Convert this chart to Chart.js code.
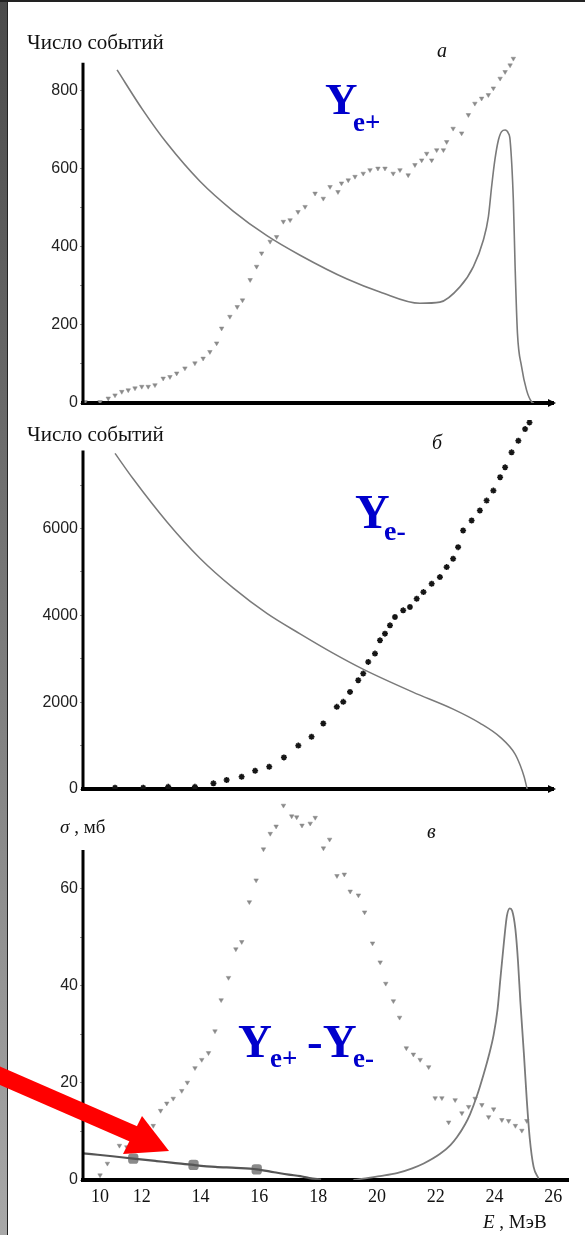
<!DOCTYPE html>
<html>
<head>
<meta charset="utf-8">
<script src="https://cdn.jsdelivr.net/npm/chart.js"></script>
<style>
  body { margin: 0; background: #fff; }
  #page { position: relative; width: 585px; height: 1235px; overflow: hidden; background: #fff; }
  canvas { position: absolute; left: 0; }
  .t { position: absolute; white-space: nowrap; line-height: 1; font-family: "Liberation Serif", "Times New Roman", serif; color: #111; }
  .yl { position: absolute; white-space: nowrap; line-height: 1; font-family: "Liberation Serif", "Times New Roman", serif; font-weight: bold; color: #0000cc; }
</style>
</head>
<body>
<div id="page">
  <div style="position:absolute;left:0;top:0;width:7px;height:1235px;background:linear-gradient(#4a4a4a,#a8a8a8)"></div>
  <div style="position:absolute;left:7px;top:0;width:1px;height:1235px;background:#222"></div>
  <div style="position:absolute;left:0;top:0;width:585px;height:2px;background:#222"></div>

  <canvas id="chartA" width="585" height="400" style="top:30px"></canvas>
  <canvas id="chartB" width="585" height="400" style="top:405px"></canvas>
  <canvas id="chartC" width="585" height="445" style="top:790px"></canvas>

  <div class="t" style="left:27px;top:32px;font-size:21px">Число событий</div>
  <div class="t" style="left:27px;top:424px;font-size:21px">Число событий</div>
  <div class="t" style="left:60px;top:817px;font-size:19px"><i>σ</i> , мб</div>
  <div class="t" style="left:483px;top:1212px;font-size:19px"><i>E</i> , МэВ</div>

  <div class="t" style="left:437px;top:40px;font-size:20px;font-style:italic">а</div>
  <div class="t" style="left:432px;top:432px;font-size:20px;font-style:italic">б</div>
  <div class="t" style="left:427px;top:821px;font-size:20px;font-style:italic">в</div>

  <div class="yl" style="left:325px;top:77px;font-size:45px">Y</div>
  <div class="yl" style="left:353px;top:109px;font-size:27px">e+</div>

  <div class="yl" style="left:355px;top:488px;font-size:48px">Y</div>
  <div class="yl" style="left:384px;top:517px;font-size:28px">e-</div>

  <div class="yl" style="left:238px;top:1018px;font-size:47px">Y</div>
  <div class="yl" style="left:270px;top:1045px;font-size:27px">e+</div>
  <div class="yl" style="left:307px;top:1018px;font-size:47px">-Y</div>
  <div class="yl" style="left:353px;top:1045px;font-size:27px">e-</div>

  <svg width="585" height="1235" style="position:absolute;left:0;top:0">
    <line x1="-4" y1="1074" x2="136" y2="1135" stroke="#ff0000" stroke-width="17"/>
    <polygon points="142,1116 123,1154 169,1151" fill="#ff0000"/>
  </svg>
</div>

<script>
// energy axis, MeV
const xTicks = [10, 12, 14, 16, 18, 20, 22, 24, 26]

// panel a: positron yield
const aYTicks = [0, 100, 200, 300, 400, 500, 600, 700, 800]
const aYLabels = [0, 200, 400, 600, 800]
const aCurveE = [11.16, 12.04, 12.86, 13.98, 15.11, 16.26, 17.39, 18.99, 20.11, 21.47, 22.15, 22.83, 23.29, 23.63,
    23.8, 23.91, 24.02, 24.14, 24.25, 24.37, 24.48, 24.54, 24.65, 24.71, 24.79, 24.93, 25.1, 25.27, 25.35]
const aCurveN = [852, 749, 664, 567, 491, 428, 378, 317, 284, 255, 258, 297, 349, 417,
    476, 553, 621, 672, 694, 698, 690, 672, 519, 349, 178, 93, 33, 3, 0]
const aPosE = [10.07, 10.58, 10.86, 11.09, 11.32, 11.54, 11.77, 12.0, 12.22, 12.45,
    12.73, 12.96, 13.19, 13.47, 13.81, 14.09, 14.32, 14.55, 14.72, 15.0,
    15.25, 15.43, 15.69, 15.91, 16.08, 16.37, 16.59, 16.82, 17.05, 17.32,
    17.56, 17.9, 18.18, 18.41, 18.68, 18.8, 19.03, 19.26, 19.54, 19.77,
    20.04, 20.28, 20.56, 20.79, 21.07, 21.3, 21.53, 21.7, 21.87, 22.04,
    22.27, 22.38, 22.6, 22.89, 23.12, 23.34, 23.57, 23.8, 23.97, 24.2,
    24.37, 24.54, 24.65]
const aPosN = [3, 3, 12, 20, 29, 33, 38, 42, 42, 46,
    63, 67, 76, 89, 102, 114, 131, 153, 191, 221,
    246, 263, 315, 349, 383, 413, 425, 464, 468, 489,
    502, 536, 523, 553, 540, 562, 570, 579, 587, 596,
    600, 600, 587, 596, 583, 609, 621, 638, 621, 647,
    647, 668, 702, 690, 737, 766, 779, 788, 805, 830,
    847, 864, 881]

// panel b: electron yield
const bYTicks = [0, 1000, 2000, 3000, 4000, 5000, 6000, 7000]
const bYLabels = [0, 2000, 4000, 6000]
const bCurveE = [11.09, 11.7, 12.86, 13.98, 15.11, 16.26, 17.39, 18.51, 19.53, 21.23, 22.6, 23.51, 24.2,
    24.71, 24.88, 25.02, 25.12]
const bCurveN = [7731, 7151, 6150, 5315, 4632, 4045, 3573, 3129, 2761, 2232, 1841, 1519, 1196,
    805, 552, 276, 0]
const bNegE = [11.09, 12.05, 12.9, 13.81, 14.44, 14.89, 15.4, 15.86, 16.34, 16.84,
    17.33, 17.78, 18.18, 18.64, 18.86, 19.09, 19.37, 19.54, 19.71, 19.94,
    20.11, 20.28, 20.45, 20.62, 20.9, 21.13, 21.36, 21.59, 21.87, 22.15,
    22.38, 22.6, 22.77, 22.94, 23.23, 23.51, 23.74, 23.97, 24.2, 24.37,
    24.59, 24.82, 25.05, 25.2]
const bNegN = [30, 30, 50, 50, 130, 207, 283, 421, 513, 728,
    1000, 1203, 1510, 1892, 2007, 2237, 2506, 2659, 2927, 3119,
    3425, 3579, 3770, 3962, 4115, 4192, 4383, 4536, 4728, 4881,
    5111, 5303, 5571, 5954, 6184, 6414, 6644, 6874, 7180, 7410,
    7755, 8023, 8291, 8444]

// panel c: difference, cross section in mb
const cYTicks = [0, 10, 20, 30, 40, 50, 60]
const cYLabels = [0, 20, 40, 60]
const cCurveE = [19.2, 19.54, 20.1, 20.68, 21.2, 21.59, 22.15, 22.5, 22.72, 23.0, 23.17, 23.4, 23.63, 23.8, 23.97,
    24.1, 24.2, 24.32, 24.42, 24.52, 24.6, 24.71, 24.8, 24.88, 25.0, 25.1, 25.2, 25.33, 25.5]
const cCurveS = [0, 0.3, 0.8, 1.4, 2.4, 3.4, 5.4, 7.2, 8.8, 11.5, 13.6, 17.3, 21.8, 25.5, 29.9,
    35, 41.5, 49, 54.4, 56, 55.5, 51.7, 45, 36.7, 26, 16.3, 8.5, 2.7, 0.3]
const cLowE = [10.0, 10.5, 11.0, 11.71, 12.5, 13.0, 13.76, 14.5, 15.2, 15.91, 16.5, 17.0, 17.39, 17.7, 18.1]
const cLowS = [5.5, 5.2, 4.9, 4.4, 3.9, 3.6, 3.1, 2.7, 2.5, 2.2, 1.6, 1.1, 0.8, 0.4, 0.1]
const cMarkE = [11.71, 13.76, 15.91]
const cMarkS = [4.4, 3.1, 2.2]
const cDiffE = [10.58, 10.83, 11.24, 11.49, 12.39, 12.64, 12.85, 13.07, 13.36, 13.55,
    13.81, 14.04, 14.27, 14.49, 14.7, 14.95, 15.2, 15.4, 15.66, 15.89,
    16.14, 16.37, 16.57, 16.82, 17.1, 17.27, 17.45, 17.73, 17.9, 18.18,
    18.39, 18.64, 18.89, 19.09, 19.37, 19.58, 19.85, 20.11, 20.3, 20.56,
    20.77, 21.0, 21.24, 21.47, 21.76, 21.98, 22.21, 22.44, 22.66, 22.89,
    23.12, 23.34, 23.57, 23.8, 23.97, 24.25, 24.48, 24.71, 24.93, 25.1]
const cDiffS = [1.0, 3.4, 7.1, 6.8, 11.2, 14.3, 15.8, 16.8, 18.4, 20.1,
    23.1, 24.8, 26.2, 30.7, 37.1, 41.7, 47.6, 49.1, 57.3, 61.8,
    68.2, 71.4, 72.9, 77.2, 75.0, 74.8, 73.1, 73.5, 74.7, 68.4,
    70.2, 62.7, 63.0, 59.5, 58.7, 55.2, 48.8, 44.9, 40.5, 36.9,
    33.5, 27.2, 25.9, 24.8, 23.3, 16.9, 16.9, 11.9, 16.5, 13.8,
    15.1, 16.8, 15.5, 13.0, 14.6, 12.4, 12.2, 11.2, 10.2, 12.2]

const pts = (xs, ys) => xs.map((x, i) => ({ x: x, y: ys[i] }))

const curve = (xs, ys, color, width) => ({
    data: pts(xs, ys), showLine: true, pointRadius: 0, borderColor: color, borderWidth: width,
    cubicInterpolationMode: 'monotone', fill: false
})

const vMarks = (xs, ys) => ({
    data: pts(xs, ys), pointStyle: 'triangle', rotation: 180, pointRadius: 2.6,
    backgroundColor: '#8a8a8a', borderColor: '#8a8a8a', borderWidth: 0.5
})

// y axis line stops at its own top, the points may go past it
// and a small arrowhead sits at the right end of the energy axis
const axisDecor = {
    id: 'axisDecor',
    afterDraw(chart, args, opts) {
        const ctx = chart.ctx
        const a = chart.chartArea
        const y = chart.scales.y
        ctx.save()
        ctx.strokeStyle = '#000'
        ctx.lineWidth = 3
        ctx.beginPath()
        ctx.moveTo(a.left, y.getPixelForValue(0) + 2)
        ctx.lineTo(a.left, y.getPixelForValue(opts.yTop))
        ctx.stroke()
        if (opts.arrow) {
            ctx.fillStyle = '#000'
            ctx.beginPath()
            ctx.moveTo(a.right + 3, a.bottom)
            ctx.lineTo(a.right - 5, a.bottom - 4)
            ctx.lineTo(a.right - 5, a.bottom + 4)
            ctx.closePath()
            ctx.fill()
        }
        ctx.restore()
    }
}

const makeChart = (id, datasets, p) => {
    new Chart(document.getElementById(id), {
        type: 'scatter',
        data: { datasets: datasets },
        plugins: [axisDecor],
        options: {
            responsive: false,
            animation: false,
            devicePixelRatio: 1,
            layout: { autoPadding: false, padding: { top: p.padTop, right: p.padRight, left: 0, bottom: 0 } },
            plugins: {
                legend: { display: false },
                tooltip: { enabled: false },
                axisDecor: { arrow: p.arrow, yTop: p.yTop }
            },
            scales: {
                x: {
                    type: 'linear', min: 10, max: p.xMax,
                    afterFit: s => { s.height = p.xHeight },
                    afterBuildTicks: s => {
                        // the source prints its "10" a bit right of the corner
                        s.ticks = xTicks.map(v => ({ value: v === 10 ? 10.58 : v }))
                    },
                    grid: { drawOnChartArea: false, drawTicks: false },
                    border: { color: '#000', width: 4 },
                    ticks: {
                        display: p.xLabels,
                        padding: 6,
                        color: '#111',
                        font: { family: '"Liberation Serif", serif', size: 18 },
                        callback: v => v < 11 ? '10' : String(v)
                    }
                },
                y: {
                    min: 0, max: p.yMax,
                    afterFit: s => { s.width = 83 },
                    afterBuildTicks: s => { s.ticks = p.yTicks.map(v => ({ value: v })) },
                    grid: { drawOnChartArea: false, drawTicks: true, tickLength: 3, color: '#999' },
                    border: { display: false },
                    ticks: {
                        padding: 2,
                        color: '#222',
                        font: { family: '"Liberation Sans", Arial, sans-serif', size: 16 },
                        callback: v => p.yLabels.includes(v) ? String(v) : ''
                    }
                }
            }
        }
    })
}

makeChart('chartA', [
    curve(aCurveE, aCurveN, '#7a7a7a', 1.6),
    vMarks(aPosE, aPosN)
], { padTop: 25, padRight: 32, xMax: 26, xHeight: 27, yMax: 890, yTop: 870, yTicks: aYTicks, yLabels: aYLabels, xLabels: false, arrow: true })

makeChart('chartB', [
    curve(bCurveE, bCurveN, '#7a7a7a', 1.5),
    {
        data: pts(bNegE, bNegN), pointStyle: 'star', pointRadius: 3, borderColor: '#151515',
        backgroundColor: '#151515', borderWidth: 1.6
    }
], { padTop: 15, padRight: 32, xMax: 26, xHeight: 16, yMax: 8500, yTop: 7800, yTicks: bYTicks, yLabels: bYLabels, xLabels: false, arrow: true })

makeChart('chartC', [
    curve(cCurveE, cCurveS, '#7a7a7a', 1.8),
    curve(cLowE, cLowS, '#555', 2.2),
    {
        data: pts(cMarkE, cMarkS), pointStyle: 'rectRounded', pointRadius: 6,
        backgroundColor: '#8a8a8a', borderColor: '#8a8a8a', borderWidth: 0
    },
    vMarks(cDiffE, cDiffS)
], { padTop: 8, padRight: 17, xMax: 26.5, xHeight: 55, yMax: 78, yTop: 68, yTicks: cYTicks, yLabels: cYLabels, xLabels: true, arrow: false })
</script>
</body>
</html>
